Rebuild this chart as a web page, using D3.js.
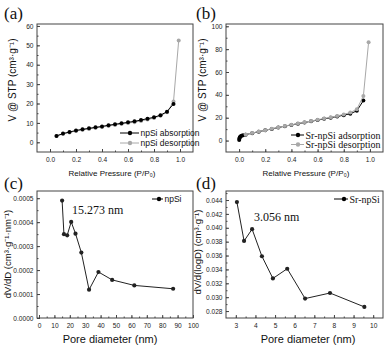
<!DOCTYPE html>
<html>
<head>
<meta charset="utf-8">
<script src="https://cdn.jsdelivr.net/npm/d3@7"></script>
<style>
  body { margin: 0; background: #fff; }
  svg { display: block; }
</style>
</head>
<body>
<div id="chart"></div>
<script>
// panel (a) npSi isotherm
var pressA = [0.05,0.1,0.15,0.2,0.25,0.3,0.35,0.4,0.45,0.5,0.55,0.6,0.65,0.7,0.75,0.8,0.85,0.9,0.95];
var adsA = [3.3,4.5,5.3,6.1,6.7,7.2,7.7,8.2,8.8,9.3,9.8,10.3,10.8,11.5,12.2,12.9,14.0,15.8,19.8];
var desPressA = [0.05,0.1,0.15,0.2,0.25,0.3,0.35,0.4,0.45,0.5,0.55,0.6,0.65,0.7,0.75,0.8,0.85,0.9,0.95,0.99];
var desA = [3.2,4.3,5.1,5.8,6.4,6.9,7.4,7.9,8.4,8.9,9.4,9.9,10.4,11.0,11.7,12.5,13.7,15.5,21.0,52.5];

// panel (b) Sr-npSi isotherm
var pressB = [0.001,0.002,0.004,0.007,0.012,0.02,0.03,0.05,0.1,0.15,0.2,0.25,0.3,0.35,0.4,0.45,0.5,0.55,0.6,0.65,0.7,0.75,0.8,0.85,0.9,0.95];
var adsB = [0.5,1.5,2.5,3.2,3.8,4.2,4.6,5.2,6.5,7.8,9.0,10.2,11.4,12.6,13.7,14.8,15.8,16.9,17.9,19.0,20.0,21.1,22.2,23.5,26.0,35.0];
var desPressB = [0.05,0.1,0.15,0.2,0.25,0.3,0.35,0.4,0.45,0.5,0.55,0.6,0.65,0.7,0.75,0.8,0.85,0.9,0.95,0.99];
var desB = [5.3,6.6,7.9,9.1,10.3,11.5,12.7,13.8,14.9,16.0,17.1,18.2,19.3,20.4,21.6,22.9,24.5,27.5,39.0,86.0];

// panel (c) npSi pore size distribution
var poreC = [15.0,16.2,18.3,20.9,23.7,27.5,32.5,38.6,47.5,61.9,87.1];
var dvC = [0.00049,0.000350,0.000345,0.000401,0.000352,0.000273,0.000118,0.000192,0.000159,0.000136,0.000122];

// panel (d) Sr-npSi pore size distribution
var poreD = [3.056,3.42,3.83,4.33,4.89,5.62,6.53,7.8,9.55];
var dvD = [0.0437,0.0381,0.0398,0.0359,0.0327,0.0341,0.0298,0.0306,0.0286];

var ticksPress = [0,0.2,0.4,0.6,0.8,1.0];
var ticksA = [0,10,20,30,40,50,60];
var ticksB = [0,20,40,60,80,100];
var ticksPoreC = [0,10,20,30,40,50,60,70,80,90,100];
var ticksDvC = [0,0.0001,0.0002,0.0003,0.0004,0.0005];
var ticksPoreD = [3,4,5,6,7,8,9,10];
var ticksDvD = [0.028,0.030,0.032,0.034,0.036,0.038,0.040,0.042,0.044];

var sans = "'Liberation Sans', Arial, sans-serif";
var serif = "'Liberation Serif', 'Times New Roman', serif";
var gray = "#a8a8a8";

var svg = d3.select("#chart").append("svg")
  .attr("width", 387).attr("height", 347);

function range(a, b, s) {
  var out = [];
  for (var v = a; v <= b + s / 1000; v += s) out.push(+v.toFixed(6));
  return out;
}

function panel(cfg) {
  var x = d3.scaleLinear().domain(cfg.xDom).range([cfg.x0, cfg.x1]);
  var y = d3.scaleLinear().domain(cfg.yDom).range([cfg.y1, cfg.y0]);
  var g = svg.append("g");

  // minor ticks
  g.append("g").attr("transform", "translate(0," + cfg.y1 + ")")
    .call(d3.axisBottom(x).tickValues(cfg.xMinor).tickSize(-1.5).tickFormat(""))
    .call(function(s) { s.select(".domain").remove(); });
  g.append("g").attr("transform", "translate(" + cfg.x0 + ",0)")
    .call(d3.axisLeft(y).tickValues(cfg.yMinor).tickSize(-1.5).tickFormat(""))
    .call(function(s) { s.select(".domain").remove(); });

  var xa = g.append("g").attr("transform", "translate(0," + cfg.y1 + ")")
    .call(d3.axisBottom(x).tickValues(cfg.xTicks).tickSize(-3).tickPadding(5).tickFormat(cfg.xFmt));
  var ya = g.append("g").attr("transform", "translate(" + cfg.x0 + ",0)")
    .call(d3.axisLeft(y).tickValues(cfg.yTicks).tickSize(-3).tickPadding(3.5).tickFormat(cfg.yFmt));
  [xa, ya].forEach(function(a) {
    a.select(".domain").remove();
    a.selectAll("text").style("font-family", sans).style("font-size", "6.6px").attr("fill", "#222");
  });
  g.selectAll("line").attr("stroke", "#444");

  g.append("rect")
    .attr("x", cfg.x0).attr("y", cfg.y0)
    .attr("width", cfg.x1 - cfg.x0).attr("height", cfg.y1 - cfg.y0)
    .attr("fill", "none").attr("stroke", "#444").attr("stroke-width", 1);

  return { x: x, y: y, g: g };
}

function series(p, xs, ys, color, r) {
  var pts = xs.map(function(v, i) { return [v, ys[i]]; });
  var line = d3.line().x(function(d) { return p.x(d[0]); }).y(function(d) { return p.y(d[1]); });
  p.g.append("path").datum(pts)
    .attr("d", line).attr("fill", "none").attr("stroke", color).attr("stroke-width", 1);
  p.g.selectAll(null).data(pts).enter().append("circle")
    .attr("cx", function(d) { return p.x(d[0]); })
    .attr("cy", function(d) { return p.y(d[1]); })
    .attr("r", r).attr("fill", color);
}

function legendItem(x1, x2, xm, y, color, label, font, size) {
  svg.append("line").attr("x1", x1).attr("x2", x2).attr("y1", y).attr("y2", y)
    .attr("stroke", color).attr("stroke-width", 1);
  svg.append("circle").attr("cx", xm).attr("cy", y).attr("r", 2.2).attr("fill", color);
  svg.append("text").attr("x", x2 + 1.5).attr("y", y).attr("dy", "0.35em")
    .style("font-family", font).style("font-size", size).attr("fill", "#111").text(label);
}

function text(x, y, str, font, size, rot, anchor) {
  var t = svg.append("text")
    .attr("transform", "translate(" + x + "," + y + ")" + (rot ? " rotate(-90)" : ""))
    .attr("text-anchor", anchor || "middle")
    .style("font-family", font).style("font-size", size).attr("fill", "#111").text(str);
  return t;
}

var f1 = d3.format(".1f");

// (a)
var pa = panel({ x0: 37, x1: 193, y0: 24, y1: 152, xDom: [-0.1, 1.1], yDom: [-5, 61],
  xTicks: ticksPress, yTicks: ticksA, xMinor: range(0, 1, 0.1), yMinor: range(0, 60, 5),
  xFmt: f1, yFmt: d3.format("d") });
series(pa, desPressA, desA, gray, 2);
series(pa, pressA, adsA, "#000", 2);
legendItem(120, 139, 130, 133, "#000", "npSi absorption", sans, "8.5px");
legendItem(120, 139, 130, 143, gray, "npSi desorption", sans, "8.5px");

// (b)
var pb = panel({ x0: 226, x1: 383, y0: 24, y1: 152, xDom: [-0.1, 1.1], yDom: [-10, 102],
  xTicks: ticksPress, yTicks: ticksB, xMinor: range(0, 1, 0.1), yMinor: range(0, 100, 10),
  xFmt: f1, yFmt: d3.format("d") });
series(pb, pressB, adsB, "#000", 2);
series(pb, desPressB, desB, gray, 2);
legendItem(291, 304, 298, 135, "#000", "Sr-npSi adsorption", serif, "10px");
legendItem(291, 304, 298, 144.5, gray, "Sr-npSi desorption", serif, "10px");

// (c)
var pc = panel({ x0: 37, x1: 193, y0: 191, y1: 318, xDom: [-1.3, 100], yDom: [0, 0.00053],
  xTicks: ticksPoreC, yTicks: ticksDvC, xMinor: range(0, 100, 5), yMinor: range(0, 0.0005, 0.00005),
  xFmt: d3.format("d"), yFmt: d3.format(".4f") });
series(pc, poreC, dvC, "#222", 2.1);
legendItem(152, 163, 159, 199, "#000", "npSi", sans, "8.5px");
text(72, 214, "15.273 nm", serif, "12px", false, "start");

// (d)
var pd = panel({ x0: 226, x1: 383, y0: 191, y1: 318, xDom: [2.5, 10.5], yDom: [0.027, 0.0453],
  xTicks: ticksPoreD, yTicks: ticksDvD, xMinor: range(3, 10, 0.5), yMinor: range(0.028, 0.045, 0.001),
  xFmt: d3.format("d"), yFmt: d3.format(".3f") });
series(pd, poreD, dvD, "#222", 2.1);
legendItem(334, 348, 344, 199, "#000", "Sr-npSi", serif, "10px");
text(254, 221, "3.056 nm", serif, "12px", false, "start");

// axis titles
text(112, 176, "Relative Pressure (P/P\u2080)", sans, "8px");
text(306, 176, "Relative Pressure (P/P\u2080)", sans, "8px");
text(110, 343, "Pore diameter (nm)", sans, "11px");
text(308, 343, "Pore diameter (nm)", sans, "11px");
text(16, 80, "V @ STP (cm\u00b3\u00b7g\u207b\u00b9)", sans, "10px", true);
text(206, 80, "V @ STP (cm\u00b3\u00b7g\u207b\u00b9)", sans, "10px", true);
text(11, 254, "dV/dD (cm\u00b3\u00b7g\u207b\u00b9\u00b7nm\u207b\u00b9)", sans, "9.5px", true);
text(201, 252, "dV/d(logD) (cm\u00b3\u00b7g\u207b\u00b9)", sans, "9.5px", true);

// panel letters
text(4, 19, "(a)", serif, "17px", false, "start");
text(196, 19, "(b)", serif, "17px", false, "start");
text(4, 189, "(c)", serif, "17px", false, "start");
text(196, 189, "(d)", serif, "17px", false, "start");
</script>
</body>
</html>
